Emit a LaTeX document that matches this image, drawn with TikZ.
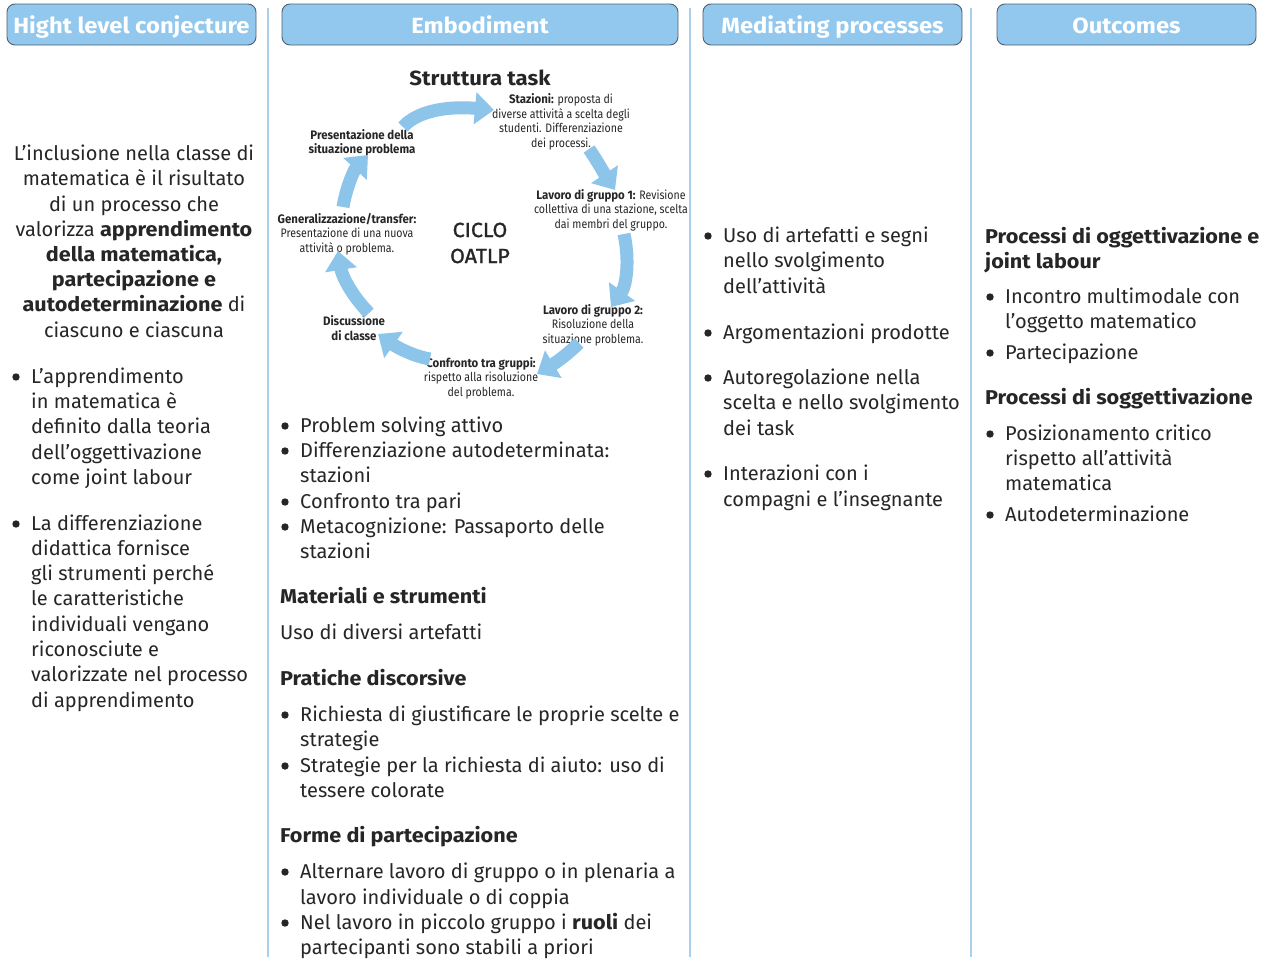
\documentclass[tikz,border=0pt]{standalone}
\usepackage{fontspec}
\setmainfont{Fira Sans}[BoldFeatures={FakeStretch=1.08}]
\newfontfamily\cycfont{Fira Sans}[FakeStretch=0.86,BoldFeatures={FakeStretch=0.93}]
\newfontfamily\medfont{Fira Sans}[FakeBold=1.3,FakeStretch=1.04]
\usetikzlibrary{arrows.meta}
\definecolor{hdrfill}{HTML}{92C8EE}
\definecolor{hdrline}{HTML}{4F6070}
\definecolor{sepc}{HTML}{A9CFEB}
\definecolor{arrc}{HTML}{8CC4EA}
\definecolor{ink}{HTML}{262626}
\newcounter{lc}
\newcommand\LW[3]{\stepcounter{lc}\node[body,anchor=base west] (l\arabic{lc}) at (#1,#2+7) {#3};}
\newcommand\LC[3]{\stepcounter{lc}\node[body,anchor=base] (l\arabic{lc}) at (#1,#2+7) {#3};}
\newcommand\BL[3]{\fill[ink] (#1-15,#2+1) circle (3.7);\LW{#1}{#2}{#3}}
\tikzset{
  body/.style={inner sep=0pt,text=ink,font=\fontsize{20}{25}\selectfont},
  hdr/.style={draw=hdrline,line width=0.9pt,fill=hdrfill,rounded corners=8pt,
    text=white,font=\fontsize{22}{26}\selectfont\bfseries,minimum height=41pt,inner sep=0pt,
    text height=20pt,text depth=3pt},
  sep/.style={draw=sepc,line width=1.8pt},
  cyc/.style={inner sep=0pt,text=ink,align=center,font=\cycfont\fontsize{12.3}{14.5}\selectfont},
  cycb/.style={cyc,font=\cycfont\fontsize{12.3}{14.5}\selectfont\bfseries},
  cycarrow/.style={draw=arrc,line width=13pt,-{Triangle[width=31pt,length=19pt]}},
}
\begin{document}
\begin{tikzpicture}[x=1pt,y=-1pt]
\useasboundingbox (0,0) rectangle (1280,964);
\fill[white] (0,0) rectangle (1280,964);
% separators
\draw[sep] (268,8) -- (268,957);
\draw[sep] (690,8) -- (690,957);
\draw[sep] (971,8) -- (971,957);
% headers
\node[hdr,minimum width=249pt] (h1) at (131.5,24.5) {Hight level conjecture};
\node[hdr,minimum width=396pt] (h2) at (480,24.5) {Embodiment};
\node[hdr,minimum width=259pt] (h3) at (832.5,24.5) {Mediating processes};
\node[hdr,minimum width=259pt] (h4) at (1126.5,24.5) {Outcomes};
% column 1
\LC{134}{153}{L’inclusione nella classe di}
\LC{134}{178}{matematica è il risultato}
\LC{134}{204}{di un processo che}
\LC{134}{229}{valorizza \textbf{apprendimento}}
\LC{134}{254}{\textbf{della matematica,}}
\LC{134}{279}{\textbf{partecipazione e}}
\LC{134}{304}{\textbf{autodeterminazione} di}
\LC{134}{330}{ciascuno e ciascuna}
\BL{31}{376}{L’apprendimento}
\LW{31}{401}{in matematica è}
\LW{31}{426}{definito dalla teoria}
\LW{31}{452}{dell’oggettivazione}
\LW{31}{477}{come joint labour}
\BL{31}{523}{La differenziazione}
\LW{31}{548}{didattica fornisce}
\LW{31}{573}{gli strumenti perché}
\LW{31}{598}{le caratteristiche}
\LW{31}{624}{individuali vengano}
\LW{31}{649}{riconosciute e}
\LW{31}{674}{valorizzate nel processo}
\LW{31}{700}{di apprendimento}
% column 2: cycle
\node[inner sep=0pt,text=ink,font=\fontsize{20.5}{24}\selectfont\bfseries] (struttura) at (480,78) {Struttura task};
\node[inner sep=0pt,text=ink,align=center,font=\medfont\fontsize{20.5}{26}\selectfont] (ciclo) at (480,243) {CICLO\\OATLP};
\node[cyc] (staz) at (561,122) {\textbf{Stazioni:} proposta di\\diverse attività a scelta degli\\studenti. Differenziazione\\dei processi.};
\node[cycb] (pres) at (362,143) {Presentazione della\\situazione problema};
\node[cyc] (lav1) at (611,210) {\textbf{Lavoro di gruppo 1:} Revisione\\collettiva di una stazione, scelta\\dai membri del gruppo.};
\node[cyc] (gen) at (347,234) {\textbf{Generalizzazione/transfer:}\\Presentazione di una nuova\\attività o problema.};
\node[cyc] (lav2) at (593,325) {\textbf{Lavoro di gruppo 2:}\\Risoluzione della\\situazione problema.};
\node[cycb] (disc) at (354,328) {Discussione\\di classe};
\node[cyc] (conf) at (481,378) {\textbf{Confronto tra gruppi:}\\rispetto alla risoluzione\\del problema.};
% arrow end points
\coordinate (a1s) at (403,127); \coordinate (a1e) at (494,110);
\coordinate (a2s) at (589,149); \coordinate (a2e) at (615,190);
\coordinate (a3s) at (624,234); \coordinate (a3e) at (611,307);
\coordinate (a4s) at (579,343); \coordinate (a4e) at (537,374);
\coordinate (a5s) at (430,359); \coordinate (a5e) at (378,334);
\coordinate (a6s) at (369,313); \coordinate (a6e) at (338,251);
\coordinate (a7s) at (343,207); \coordinate (a7e) at (368,155);
\draw[cycarrow] (a1s) .. controls (418,110) and (450,106) .. (a1e);
\draw[cycarrow] (a2s) .. controls (598,162) and (605,175) .. (a2e);
\draw[cycarrow] (a3s) .. controls (630,262) and (626,286) .. (a3e);
\draw[cycarrow] (a4s) .. controls (566,356) and (552,365) .. (a4e);
\draw[cycarrow] (a5s) .. controls (412,356) and (395,346) .. (a5e);
\draw[cycarrow] (a6s) .. controls (352,296) and (342,276) .. (a6e);
\draw[cycarrow] (a7s) .. controls (346,188) and (354,170) .. (a7e);
% column 2 text
\BL{300}{425}{Problem solving attivo}
\BL{300}{450}{Differenziazione autodeterminata:}
\LW{300}{475}{stazioni}
\BL{300}{501}{Confronto tra pari}
\BL{300}{526}{Metacognizione: Passaporto delle}
\LW{300}{551}{stazioni}
\LW{280}{596}{\textbf{Materiali e strumenti}}
\LW{280}{632}{Uso di diversi artefatti}
\LW{280}{678}{\textbf{Pratiche discorsive}}
\BL{300}{714}{Richiesta di giustificare le proprie scelte e}
\LW{300}{739}{strategie}
\BL{300}{765}{Strategie per la richiesta di aiuto: uso di}
\LW{300}{790}{tessere colorate}
\LW{280}{835}{\textbf{Forme di partecipazione}}
\BL{300}{871}{Alternare lavoro di gruppo o in plenaria a}
\LW{300}{897}{lavoro individuale o di coppia}
\BL{300}{922}{Nel lavoro in piccolo gruppo i \textbf{ruoli} dei}
\LW{300}{947}{partecipanti sono stabili a priori}
% column 3
\BL{723}{235}{Uso di artefatti e segni}
\LW{723}{260}{nello svolgimento}
\LW{723}{286}{dell’attività}
\BL{723}{332}{Argomentazioni prodotte}
\BL{723}{377}{Autoregolazione nella}
\LW{723}{402}{scelta e nello svolgimento}
\LW{723}{428}{dei task}
\BL{723}{473}{Interazioni con i}
\LW{723}{499}{compagni e l’insegnante}
% column 4
\LW{985}{236}{\textbf{Processi di oggettivazione e}}
\LW{985}{261}{\textbf{joint labour}}
\BL{1005}{296}{Incontro multimodale con}
\LW{1005}{321}{l’oggetto matematico}
\BL{1005}{352}{Partecipazione}
\LW{985}{397}{\textbf{Processi di soggettivazione}}
\BL{1005}{433}{Posizionamento critico}
\LW{1005}{458}{rispetto all’attività}
\LW{1005}{483}{matematica}
\BL{1005}{514}{Autodeterminazione}
\end{tikzpicture}
\end{document}
